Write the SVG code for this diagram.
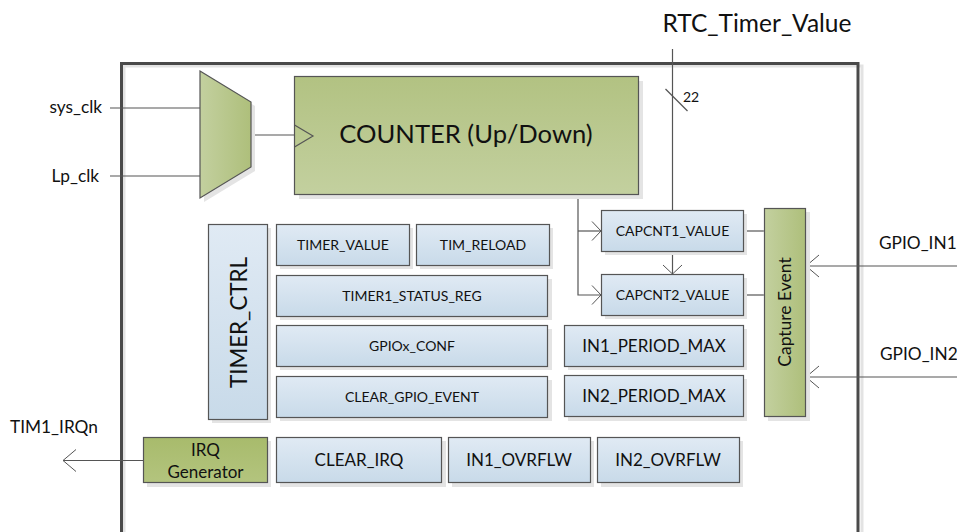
<svg xmlns="http://www.w3.org/2000/svg" width="957" height="532" viewBox="0 0 957 532">
<defs>
<linearGradient id="gBlue" x1="0" y1="0" x2="0" y2="1"><stop offset="0" stop-color="#e0eaf4"/><stop offset="1" stop-color="#c8dae9"/></linearGradient>
<linearGradient id="gGreen" x1="0" y1="0" x2="0" y2="1"><stop offset="0" stop-color="#b2c282"/><stop offset="1" stop-color="#c3d09f"/></linearGradient>
<linearGradient id="gGreenH" x1="0" y1="0" x2="1" y2="0"><stop offset="0" stop-color="#c3d09f"/><stop offset="1" stop-color="#aebf7b"/></linearGradient>
<linearGradient id="gIrq" x1="0" y1="0" x2="0" y2="1"><stop offset="0" stop-color="#a8bb6c"/><stop offset="1" stop-color="#b3c47e"/></linearGradient>
<marker id="big" viewBox="-15 -13 17 26" refX="0" refY="0" markerWidth="17" markerHeight="26" markerUnits="userSpaceOnUse" orient="auto" overflow="visible"><path d="M-13,-11 L0,0 L-13,11" fill="none" stroke="#555" stroke-width="1"/></marker>
<marker id="small" viewBox="-11 -11 13 22" refX="0" refY="0" markerWidth="13" markerHeight="22" markerUnits="userSpaceOnUse" orient="auto" overflow="visible"><path d="M-9,-9.5 L0,0 L-9,9.5" fill="none" stroke="#555" stroke-width="1"/></marker>
</defs>
<style>
text{font-family:Lato,"Liberation Sans",sans-serif;fill:#111}
.sh{fill:#e4e4e4}
.reg{fill:url(#gBlue);stroke:#555;stroke-width:1.2}
.grn{fill:url(#gGreen);stroke:#555;stroke-width:1.2}
.ln{stroke:#555;stroke-width:1.2;fill:none}
.s{font-size:14px;text-anchor:middle}
.m{font-size:17px;text-anchor:middle}
.lbl{font-size:17.3px}
</style>
<rect width="957" height="532" fill="#fff"/>
<g id="frame">
<path d="M124,540 V66 H862 V540" fill="none" stroke="#e3e3e3" stroke-width="3"/>
<path d="M121.5,540 V63.5 H858 V540" fill="none" stroke="#4a4a4a" stroke-width="3"/>
</g>
<g id="connectors">
<line class="ln" x1="110" y1="108" x2="200" y2="108"/>
<line class="ln" x1="110" y1="176" x2="200" y2="176"/>
<line class="ln" x1="251" y1="135" x2="294" y2="135"/>
<line class="ln" x1="672.5" y1="49" x2="672.5" y2="210"/>
<line class="ln" x1="665.5" y1="89" x2="687.5" y2="111" stroke-width="0.9"/>
<path class="ln" d="M578,194 V295 H601" marker-end="url(#small)"/>
<path class="ln" d="M578,231 H601" marker-end="url(#small)"/>
<path class="ln" d="M672.5,251 V274" marker-end="url(#small)"/>
<line class="ln" x1="743" y1="231" x2="764" y2="231"/>
<line class="ln" x1="743" y1="295" x2="764" y2="295"/>
<path class="ln" d="M957,266 H806" marker-end="url(#big)"/>
<path class="ln" d="M957,377 H806" marker-end="url(#big)"/>
<path class="ln" d="M143,460.5 H63" marker-end="url(#big)"/>
</g>
<g id="mux">
<path d="M204,75 L255,106 V171 L204,202 Z" class="sh"/>
<path d="M200,71 L251,102 V167 L200,198 Z" fill="url(#gGreenH)" stroke="#555" stroke-width="1.2"/>
</g>
<g id="counter">
<rect x="299" y="81" width="344" height="118" class="sh"/>
<rect x="294.5" y="76.5" width="344" height="118" class="grn"/>
<path class="ln" d="M294.5,125 L313,136 L294.5,147"/>
<text x="466" y="143" font-size="25.6" text-anchor="middle">COUNTER (Up/Down)</text>
</g>
<g id="rtc">
<text x="757" y="32" font-size="24.5" text-anchor="middle">RTC_Timer_Value</text>
<text x="683" y="102" font-size="14">22</text>
</g>
<g id="timer_ctrl">
<rect x="212" y="228" width="59" height="195" class="sh"/>
<rect x="208.5" y="224.5" width="59" height="195" class="reg"/>
<text transform="translate(246.5,322.5) rotate(-90)" font-size="24" text-anchor="middle" textLength="131" lengthAdjust="spacingAndGlyphs">TIMER_CTRL</text>
</g>
<g id="timer_value">
<rect x="280" y="228" width="133" height="41" class="sh"/>
<rect x="276.5" y="224.5" width="133" height="41" class="reg"/>
<text x="343" y="250" class="s">TIMER_VALUE</text>
</g>
<g id="tim_reload">
<rect x="420" y="228" width="133" height="41" class="sh"/>
<rect x="416.5" y="224.5" width="133" height="41" class="reg"/>
<text x="483" y="250" class="s">TIM_RELOAD</text>
</g>
<g id="timer1_status_reg">
<rect x="280" y="279" width="272" height="41" class="sh"/>
<rect x="276.5" y="275.5" width="271" height="41" class="reg"/>
<text x="412" y="301" class="s">TIMER1_STATUS_REG</text>
</g>
<g id="gpiox_conf">
<rect x="280" y="329" width="272" height="41" class="sh"/>
<rect x="276.5" y="325.5" width="271" height="41" class="reg"/>
<text x="412" y="351" class="s">GPIOx_CONF</text>
</g>
<g id="clear_gpio_event">
<rect x="280" y="380" width="272" height="41" class="sh"/>
<rect x="276.5" y="376.5" width="271" height="41" class="reg"/>
<text x="412" y="402" class="s">CLEAR_GPIO_EVENT</text>
</g>
<g id="capcnt1_value">
<rect x="605" y="214" width="142" height="41" class="sh"/>
<rect x="601.5" y="210.5" width="142" height="41" class="reg"/>
<text x="672.5" y="236" class="s">CAPCNT1_VALUE</text>
</g>
<g id="capcnt2_value">
<rect x="605" y="278" width="142" height="41" class="sh"/>
<rect x="601.5" y="274.5" width="142" height="41" class="reg"/>
<text x="672.5" y="300" class="s">CAPCNT2_VALUE</text>
</g>
<g id="in1_period_max">
<rect x="568" y="329" width="179" height="41" class="sh"/>
<rect x="564.5" y="325.5" width="179" height="41" class="reg"/>
<text x="654" y="352" class="m">IN1_PERIOD_MAX</text>
</g>
<g id="in2_period_max">
<rect x="568" y="379" width="179" height="42" class="sh"/>
<rect x="564.5" y="375.5" width="179" height="41" class="reg"/>
<text x="654" y="402" class="m">IN2_PERIOD_MAX</text>
</g>
<g id="capture_event">
<rect x="768" y="212" width="42" height="209" class="sh"/>
<rect x="764.5" y="208.5" width="41" height="208" fill="url(#gGreenH)" stroke="#555" stroke-width="1.2"/>
<text transform="translate(791,312) rotate(-90)" font-size="17.5" text-anchor="middle">Capture Event</text>
</g>
<g id="irq_generator">
<rect x="147" y="441" width="124" height="46" class="sh"/>
<rect x="143.5" y="437.5" width="124" height="45" fill="url(#gIrq)" stroke="#555" stroke-width="1.2"/>
<text x="205.5" y="456" class="m">IRQ</text>
<text x="205.5" y="478" class="m">Generator</text>
</g>
<g id="clear_irq">
<rect x="280" y="441" width="166" height="46" class="sh"/>
<rect x="276.5" y="437.5" width="165" height="45" class="reg"/>
<text x="359" y="466" class="m">CLEAR_IRQ</text>
</g>
<g id="in1_ovrflw">
<rect x="452" y="441" width="142" height="46" class="sh"/>
<rect x="448.5" y="437.5" width="142" height="45" class="reg"/>
<text x="519" y="466" class="m">IN1_OVRFLW</text>
</g>
<g id="in2_ovrflw">
<rect x="601" y="441" width="142" height="46" class="sh"/>
<rect x="597.5" y="437.5" width="142" height="45" class="reg"/>
<text x="668" y="466" class="m">IN2_OVRFLW</text>
</g>
<g id="labels">
<text x="102" y="113" class="lbl" text-anchor="end">sys_clk</text>
<text x="99" y="182" class="lbl" text-anchor="end">Lp_clk</text>
<text x="879" y="249" class="lbl">GPIO_IN1</text>
<text x="880" y="360" class="lbl">GPIO_IN2</text>
<text x="10" y="433" class="lbl">TIM1_IRQn</text>
</g>
</svg>
